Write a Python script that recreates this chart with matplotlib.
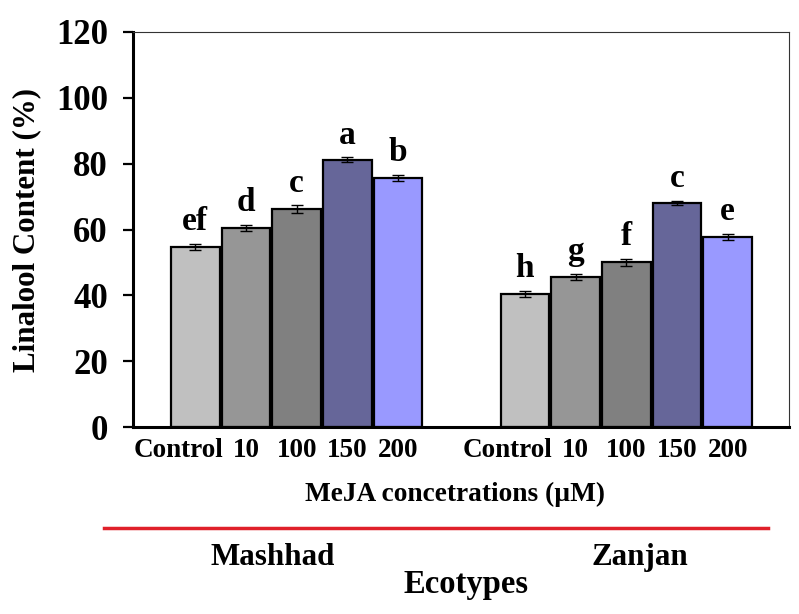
import matplotlib.pyplot as plt
import numpy as np
from matplotlib.lines import Line2D
from matplotlib.transforms import ScaledTranslation

# Данные
ecotypes = ['Mashhad', 'Zanjan']
doses = ['Control', '10', '100', '150', '200']
mashhad_vals = [54.8, 60.4, 66.2, 81.2, 75.7]
zanjan_vals = [40.4, 45.5, 50.0, 68.0, 57.8]
mashhad_err = [0.9, 0.9, 1.1, 0.7, 1.0]
zanjan_err = [0.9, 0.9, 1.1, 0.7, 0.9]
mashhad_letters = ['ef', 'd', 'c', 'a', 'b']
zanjan_letters = ['h', 'g', 'f', 'c', 'e']
bar_colors = ['#C0C0C0', '#969696', '#808080', '#666699', '#9999FF']

plt.rcParams['font.family'] = ['Liberation Serif', 'DejaVu Serif']
plt.rcParams['font.weight'] = 'bold'

fig = plt.figure(figsize=(7.99, 6.14), dpi=100)
ax = fig.add_axes([133 / 799, 1 - 427 / 614, (789 - 133) / 799, (427 - 32) / 614])

gap = 6.5
x1 = np.arange(len(doses))
x2 = x1 + gap

for xs, vals, errs, letters in [(x1, mashhad_vals, mashhad_err, mashhad_letters),
                                (x2, zanjan_vals, zanjan_err, zanjan_letters)]:
    ax.bar(xs, vals, width=0.96, color=bar_colors, edgecolor='black', linewidth=1.6, zorder=2)
    ax.errorbar(xs, vals, yerr=errs, fmt='none', ecolor='black', elinewidth=1,
                capsize=4, capthick=1, zorder=3)
    for x, v, e, lab in zip(xs, vals, errs, letters):
        ax.text(x, v + e + 4.2, lab, ha='center', va='baseline', fontsize=24, fontweight='bold')

ax.set_xlim(-1.23, 11.71)
ax.set_ylim(0, 120)
ax.set_yticks(np.arange(0, 121, 20))
ax.set_xticks(np.concatenate([x1, x2]))
ax.set_xticklabels(doses + doses)
ax.tick_params(axis='y', direction='out', length=7, width=1.6, labelsize=25, pad=11)
ax.tick_params(axis='x', length=0, labelsize=19.5, pad=8)
for lab in ax.get_xticklabels() + ax.get_yticklabels():
    lab.set_fontweight('bold')

# подпись "Control" немного сдвинута влево, как в оригинале
shift = ScaledTranslation(-17 / 100, 0, fig.dpi_scale_trans)
xlabels = ax.get_xticklabels()
for i in (0, len(doses)):
    xlabels[i].set_transform(xlabels[i].get_transform() + shift)

ax.spines['left'].set_linewidth(2.2)
ax.spines['bottom'].set_linewidth(2.2)
ax.spines['top'].set_linewidth(0.8)
ax.spines['right'].set_linewidth(0.8)
ax.spines['top'].set_color('#333333')
ax.spines['right'].set_color('#333333')

fig.text(27 / 799, 1 - 230 / 614, 'Linalool Content (%)', rotation=90, ha='center', va='center',
         fontsize=22.3, fontweight='bold')

fig.text(455 / 799, 1 - 494 / 614, 'MeJA concetrations (µM)', ha='center', va='center',
         fontsize=19.7, fontweight='bold')

fig.add_artist(Line2D([104 / 799, 768 / 799], [1 - 528 / 614, 1 - 528 / 614],
                      color='#E0202A', linewidth=2.5, transform=fig.transFigure))

fig.text(273 / 799, 1 - 565 / 614, ecotypes[0], ha='center', va='baseline', fontsize=22.3, fontweight='bold')
fig.text(640 / 799, 1 - 565 / 614, ecotypes[1], ha='center', va='baseline', fontsize=22.3, fontweight='bold')
fig.text(466 / 799, 1 - 593 / 614, 'Ecotypes', ha='center', va='baseline', fontsize=23.5, fontweight='bold')

fig.savefig('out.png', dpi=100)
